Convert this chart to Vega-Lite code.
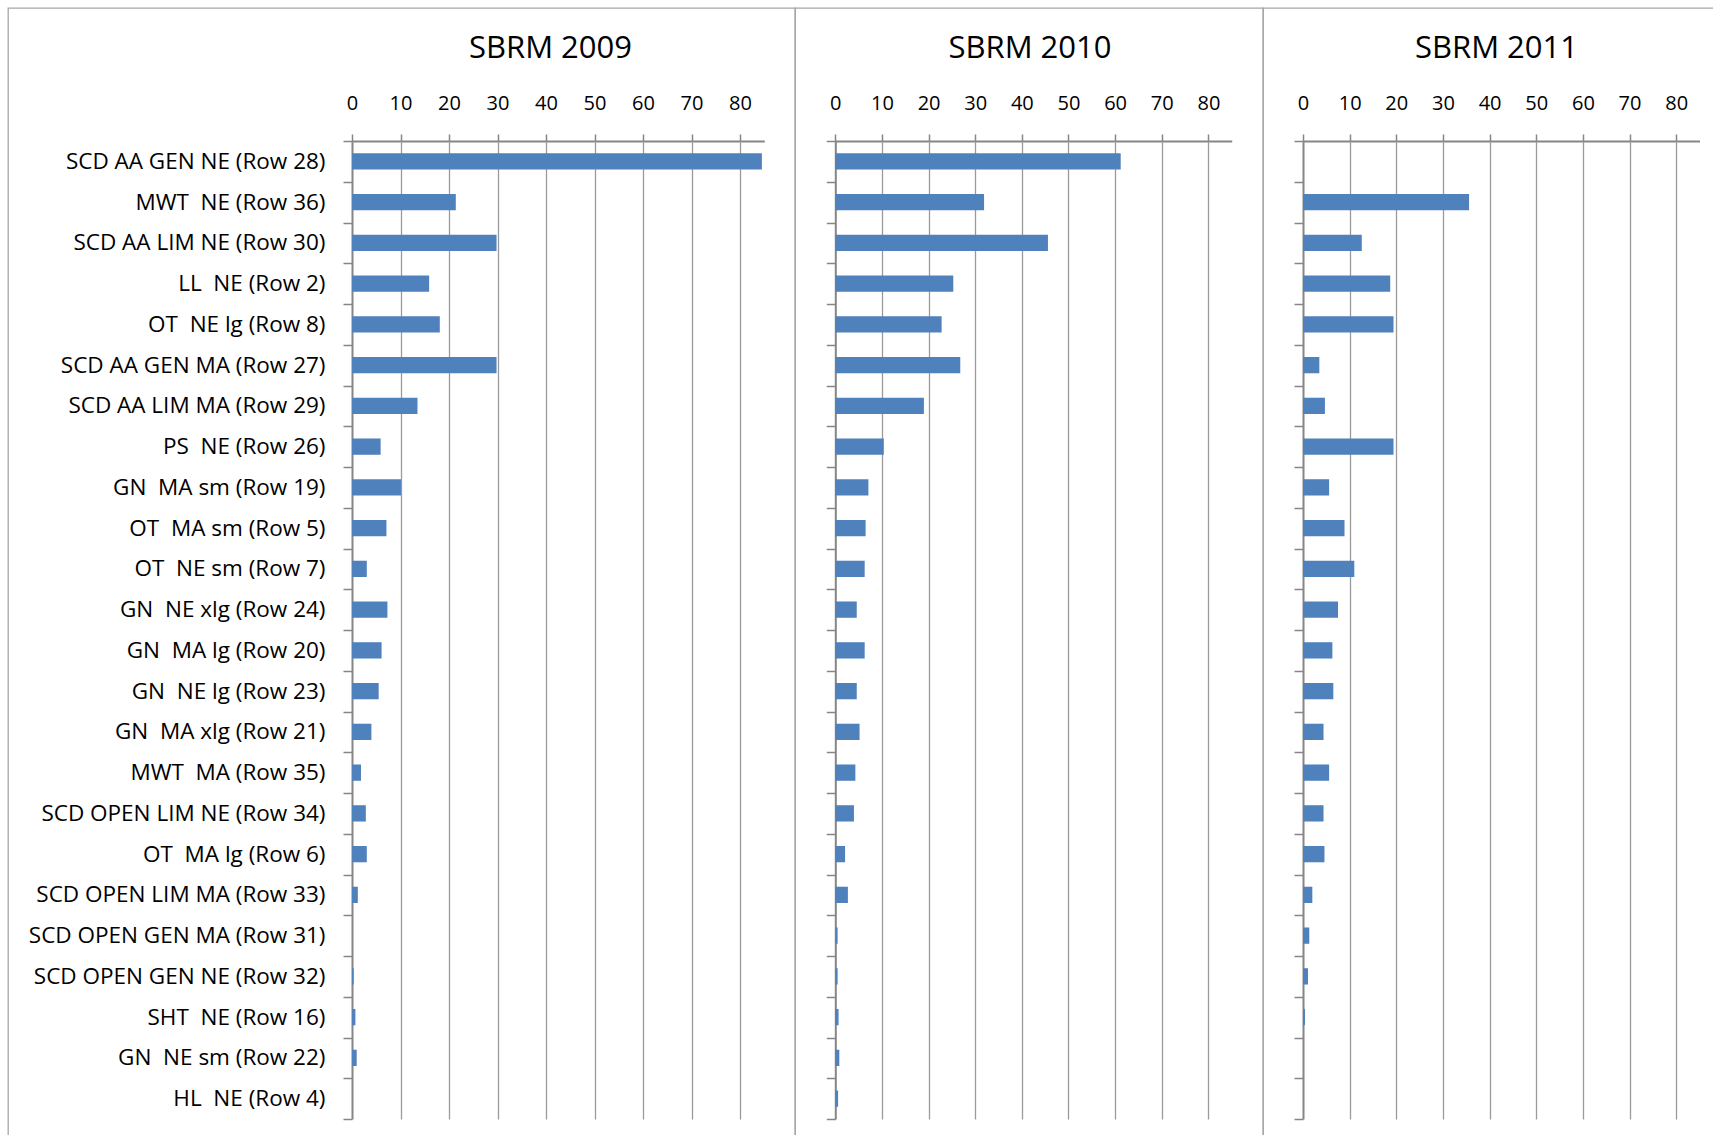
{
  "$schema": "https://vega.github.io/schema/vega-lite/v6.json",
  "padding": {"left": 7, "top": -4, "right": 0, "bottom": 0},
  "background": "white",
  "spacing": 0,
  "bounds": "flush",
  "config": {
    "view": {"stroke": "#a6a6a6", "strokeWidth": 1.3},
    "font": "Open Sans",
    "axis": {"grid": false, "title": null, "labelFont": "Open Sans", "labelColor": "#000000", "domainColor": "#868686", "tickColor": "#868686"},
    "title": {"font": "Open Sans", "fontSize": 31, "fontWeight": "normal", "color": "#000000", "frame": "group", "anchor": "middle", "baseline": "alphabetic"}
  },
  "data": {"values": [
    {"label": "SCD AA GEN NE (Row 28)", "year": 2009, "value": 84.5},
    {"label": "MWT \u00a0NE (Row 36)", "year": 2009, "value": 21.4},
    {"label": "SCD AA LIM NE (Row 30)", "year": 2009, "value": 29.8},
    {"label": "LL \u00a0NE (Row 2)", "year": 2009, "value": 15.9},
    {"label": "OT \u00a0NE lg (Row 8)", "year": 2009, "value": 18.1},
    {"label": "SCD AA GEN MA (Row 27)", "year": 2009, "value": 29.8},
    {"label": "SCD AA LIM MA (Row 29)", "year": 2009, "value": 13.5},
    {"label": "PS \u00a0NE (Row 26)", "year": 2009, "value": 5.9},
    {"label": "GN \u00a0MA sm (Row 19)", "year": 2009, "value": 10.1},
    {"label": "OT \u00a0MA sm (Row 5)", "year": 2009, "value": 7.1},
    {"label": "OT \u00a0NE sm (Row 7)", "year": 2009, "value": 3.05},
    {"label": "GN \u00a0NE xlg (Row 24)", "year": 2009, "value": 7.3},
    {"label": "GN \u00a0MA lg (Row 20)", "year": 2009, "value": 6.1},
    {"label": "GN \u00a0NE lg (Row 23)", "year": 2009, "value": 5.5},
    {"label": "GN \u00a0MA xlg (Row 21)", "year": 2009, "value": 4.0},
    {"label": "MWT \u00a0MA (Row 35)", "year": 2009, "value": 1.85},
    {"label": "SCD OPEN LIM NE (Row 34)", "year": 2009, "value": 2.85},
    {"label": "OT \u00a0MA lg (Row 6)", "year": 2009, "value": 3.05},
    {"label": "SCD OPEN LIM MA (Row 33)", "year": 2009, "value": 1.2},
    {"label": "SCD OPEN GEN MA (Row 31)", "year": 2009, "value": 0},
    {"label": "SCD OPEN GEN NE (Row 32)", "year": 2009, "value": 0.35},
    {"label": "SHT \u00a0NE (Row 16)", "year": 2009, "value": 0.7},
    {"label": "GN \u00a0NE sm (Row 22)", "year": 2009, "value": 0.97},
    {"label": "HL \u00a0NE (Row 4)", "year": 2009, "value": 0},
    {"label": "SCD AA GEN NE (Row 28)", "year": 2010, "value": 61.2},
    {"label": "MWT \u00a0NE (Row 36)", "year": 2010, "value": 31.9},
    {"label": "SCD AA LIM NE (Row 30)", "year": 2010, "value": 45.6},
    {"label": "LL \u00a0NE (Row 2)", "year": 2010, "value": 25.3},
    {"label": "OT \u00a0NE lg (Row 8)", "year": 2010, "value": 22.8},
    {"label": "SCD AA GEN MA (Row 27)", "year": 2010, "value": 26.8},
    {"label": "SCD AA LIM MA (Row 29)", "year": 2010, "value": 19.0},
    {"label": "PS \u00a0NE (Row 26)", "year": 2010, "value": 10.4},
    {"label": "GN \u00a0MA sm (Row 19)", "year": 2010, "value": 7.1},
    {"label": "OT \u00a0MA sm (Row 5)", "year": 2010, "value": 6.5},
    {"label": "OT \u00a0NE sm (Row 7)", "year": 2010, "value": 6.3},
    {"label": "GN \u00a0NE xlg (Row 24)", "year": 2010, "value": 4.6},
    {"label": "GN \u00a0MA lg (Row 20)", "year": 2010, "value": 6.3},
    {"label": "GN \u00a0NE lg (Row 23)", "year": 2010, "value": 4.6},
    {"label": "GN \u00a0MA xlg (Row 21)", "year": 2010, "value": 5.2},
    {"label": "MWT \u00a0MA (Row 35)", "year": 2010, "value": 4.3},
    {"label": "SCD OPEN LIM NE (Row 34)", "year": 2010, "value": 4.0},
    {"label": "OT \u00a0MA lg (Row 6)", "year": 2010, "value": 2.1},
    {"label": "SCD OPEN LIM MA (Row 33)", "year": 2010, "value": 2.7},
    {"label": "SCD OPEN GEN MA (Row 31)", "year": 2010, "value": 0.5},
    {"label": "SCD OPEN GEN NE (Row 32)", "year": 2010, "value": 0.5},
    {"label": "SHT \u00a0NE (Row 16)", "year": 2010, "value": 0.7},
    {"label": "GN \u00a0NE sm (Row 22)", "year": 2010, "value": 0.86},
    {"label": "HL \u00a0NE (Row 4)", "year": 2010, "value": 0.6},
    {"label": "SCD AA GEN NE (Row 28)", "year": 2011, "value": 0},
    {"label": "MWT \u00a0NE (Row 36)", "year": 2011, "value": 35.6},
    {"label": "SCD AA LIM NE (Row 30)", "year": 2011, "value": 12.6},
    {"label": "LL \u00a0NE (Row 2)", "year": 2011, "value": 18.7},
    {"label": "OT \u00a0NE lg (Row 8)", "year": 2011, "value": 19.4},
    {"label": "SCD AA GEN MA (Row 27)", "year": 2011, "value": 3.5},
    {"label": "SCD AA LIM MA (Row 29)", "year": 2011, "value": 4.7},
    {"label": "PS \u00a0NE (Row 26)", "year": 2011, "value": 19.4},
    {"label": "GN \u00a0MA sm (Row 19)", "year": 2011, "value": 5.6},
    {"label": "OT \u00a0MA sm (Row 5)", "year": 2011, "value": 8.9},
    {"label": "OT \u00a0NE sm (Row 7)", "year": 2011, "value": 11.0},
    {"label": "GN \u00a0NE xlg (Row 24)", "year": 2011, "value": 7.5},
    {"label": "GN \u00a0MA lg (Row 20)", "year": 2011, "value": 6.3},
    {"label": "GN \u00a0NE lg (Row 23)", "year": 2011, "value": 6.5},
    {"label": "GN \u00a0MA xlg (Row 21)", "year": 2011, "value": 4.4},
    {"label": "MWT \u00a0MA (Row 35)", "year": 2011, "value": 5.6},
    {"label": "SCD OPEN LIM NE (Row 34)", "year": 2011, "value": 4.4},
    {"label": "OT \u00a0MA lg (Row 6)", "year": 2011, "value": 4.6},
    {"label": "SCD OPEN LIM MA (Row 33)", "year": 2011, "value": 2.0},
    {"label": "SCD OPEN GEN MA (Row 31)", "year": 2011, "value": 1.35},
    {"label": "SCD OPEN GEN NE (Row 32)", "year": 2011, "value": 1.07},
    {"label": "SHT \u00a0NE (Row 16)", "year": 2011, "value": 0.43},
    {"label": "GN \u00a0NE sm (Row 22)", "year": 2011, "value": 0},
    {"label": "HL \u00a0NE (Row 4)", "year": 2011, "value": 0}
  ]},
  "hconcat": [
    {
      "width": 787,
      "height": 1128,
      "title": {"text": "SBRM 2009", "offset": -68, "dx": 149},
      "transform": [{"filter": "datum.year == 2009"}],
      "layer": [
        {
          "mark": {"type": "bar", "color": "#4f81bd", "height": {"band": 0.4}},
          "encoding": {
            "y": {"field": "label", "type": "nominal", "sort": null,
              "scale": {"range": [133, 1111], "paddingInner": 0, "paddingOuter": 0},
              "axis": {"orient": "left", "offset": -344, "tickBand": "extent", "tickSize": 9, "tickWidth": 1.5, "domainWidth": 2, "labelFontSize": 22.5, "labelPadding": 18, "labelLimit": 500, "labelBaseline": "middle", "labelOverlap": false}},
            "x": {"field": "value", "type": "quantitative",
              "scale": {"domain": [0, 85], "range": [344, 756.3], "nice": false, "zero": true},
              "axis": {"orient": "top", "offset": -133, "values": [0, 10, 20, 30, 40, 50, 60, 70, 80], "tickSize": 7, "tickWidth": 1.5, "domainWidth": 2, "labelFontSize": 20, "labelPadding": 25, "labelBaseline": "alphabetic", "labelFlush": false, "labelOverlap": false}}
          }
        },
        {
          "mark": {"type": "rule", "strokeOpacity": 0},
          "encoding": {
            "x": {"field": "value", "type": "quantitative",
              "axis": {"orient": "bottom", "offset": -17, "values": [10, 20, 30, 40, 50, 60, 70, 80], "tickSize": -978, "tickWidth": 1.3, "tickColor": "#9a9a9a", "labels": false, "domain": false}}
          }
        }
      ],
      "resolve": {"axis": {"x": "independent"}}
    },
    {
      "width": 468,
      "height": 1128,
      "title": {"text": "SBRM 2010", "offset": -57, "dx": 1},
      "transform": [{"filter": "datum.year == 2010"}],
      "layer": [
        {
          "mark": {"type": "bar", "color": "#4f81bd", "height": {"band": 0.4}},
          "encoding": {
            "y": {"field": "label", "type": "nominal", "sort": null,
              "scale": {"range": [133, 1111], "paddingInner": 0, "paddingOuter": 0},
              "axis": {"orient": "left", "offset": -40.3, "tickBand": "extent", "tickSize": 9, "tickWidth": 1.5, "domainWidth": 2, "labels": false}},
            "x": {"field": "value", "type": "quantitative",
              "scale": {"domain": [0, 85], "range": [40.3, 436.7], "nice": false, "zero": true},
              "axis": {"orient": "top", "offset": -133, "values": [0, 10, 20, 30, 40, 50, 60, 70, 80], "tickSize": 7, "tickWidth": 1.5, "domainWidth": 2, "labelFontSize": 20, "labelPadding": 25, "labelBaseline": "alphabetic", "labelFlush": false, "labelOverlap": false}}
          }
        },
        {
          "mark": {"type": "rule", "strokeOpacity": 0},
          "encoding": {
            "x": {"field": "value", "type": "quantitative",
              "axis": {"orient": "bottom", "offset": -17, "values": [10, 20, 30, 40, 50, 60, 70, 80], "tickSize": -978, "tickWidth": 1.3, "tickColor": "#9a9a9a", "labels": false, "domain": false}}
          }
        }
      ],
      "resolve": {"axis": {"x": "independent"}}
    },
    {
      "width": 451,
      "height": 1128,
      "title": {"text": "SBRM 2011", "offset": -57, "dx": 8},
      "transform": [{"filter": "datum.year == 2011"}],
      "layer": [
        {
          "mark": {"type": "bar", "color": "#4f81bd", "height": {"band": 0.4}},
          "encoding": {
            "y": {"field": "label", "type": "nominal", "sort": null,
              "scale": {"range": [133, 1111], "paddingInner": 0, "paddingOuter": 0},
              "axis": {"orient": "left", "offset": -40, "tickBand": "extent", "tickSize": 9, "tickWidth": 1.5, "domainWidth": 2, "labels": false}},
            "x": {"field": "value", "type": "quantitative",
              "scale": {"domain": [0, 85], "range": [40, 436.5], "nice": false, "zero": true},
              "axis": {"orient": "top", "offset": -133, "values": [0, 10, 20, 30, 40, 50, 60, 70, 80], "tickSize": 7, "tickWidth": 1.5, "domainWidth": 2, "labelFontSize": 20, "labelPadding": 25, "labelBaseline": "alphabetic", "labelFlush": false, "labelOverlap": false}}
          }
        },
        {
          "mark": {"type": "rule", "strokeOpacity": 0},
          "encoding": {
            "x": {"field": "value", "type": "quantitative",
              "axis": {"orient": "bottom", "offset": -17, "values": [10, 20, 30, 40, 50, 60, 70, 80], "tickSize": -978, "tickWidth": 1.3, "tickColor": "#9a9a9a", "labels": false, "domain": false}}
          }
        }
      ],
      "resolve": {"axis": {"x": "independent"}}
    }
  ]
}
